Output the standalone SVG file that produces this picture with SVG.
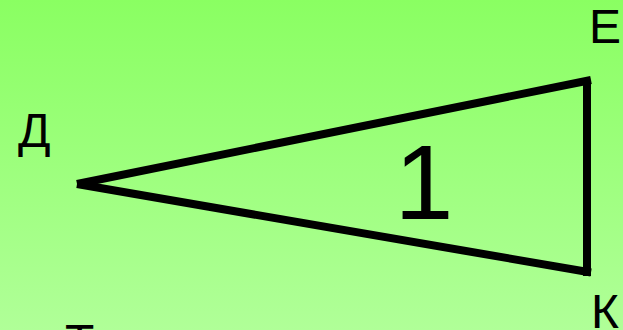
<svg xmlns="http://www.w3.org/2000/svg" width="623" height="330" viewBox="0 0 623 330">
<defs>
<linearGradient id="bg" x1="0" y1="0" x2="0" y2="1">
<stop offset="0" stop-color="#8aff62"/>
<stop offset="1" stop-color="#b0ff98"/>
</linearGradient>
</defs>
<style>
.lbl{font-family:"Liberation Sans",Arial,sans-serif;font-size:48px;fill:#000}
.edge{stroke:#000;stroke-width:8;fill:none;stroke-linecap:butt}
</style>
<rect width="623" height="330" fill="url(#bg)"/>
<g id="edges">
<line class="edge" x1="77" y1="184" x2="591" y2="80"/>
<line class="edge" x1="77" y1="184" x2="591" y2="272.5"/>
<line class="edge" x1="587" y1="80" x2="587" y2="276"/>
</g>
<g id="D"><text class="lbl" x="18" y="147">Д</text></g>
<g id="E"><text class="lbl" x="589" y="43">Е</text></g>
<g id="K"><text class="lbl" x="591" y="328">К</text></g>
<g id="T"><text class="lbl" x="65" y="358">Т</text></g>
<g id="n1"><text class="lbl" x="394.5" y="219" style="font-size:106px">1</text></g>
</svg>
